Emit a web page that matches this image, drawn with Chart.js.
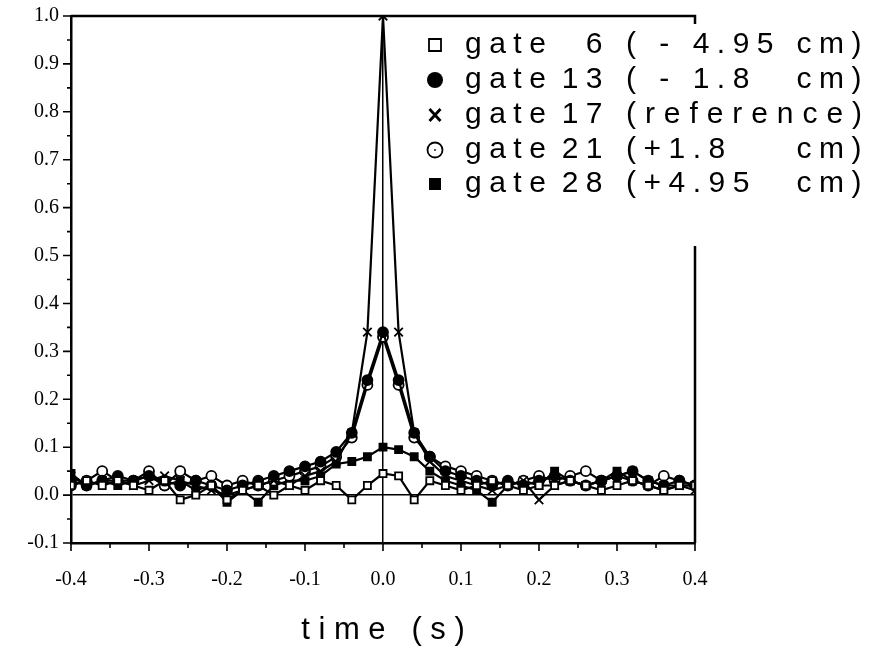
<!DOCTYPE html>
<html>
<head>
<meta charset="utf-8">
<script src="https://cdn.jsdelivr.net/npm/chart.js@4.4.0/dist/chart.umd.min.js"></script>
<style>
  html, body { margin: 0; padding: 0; background: #fff; }
  #wrap { width: 870px; height: 655px; }
</style>
</head>
<body>
<div id="wrap"><canvas id="c" width="870" height="655"></canvas></div>
<script>
// time lag (s)
const times = [-0.40, -0.38, -0.36, -0.34, -0.32, -0.30, -0.28, -0.26, -0.24, -0.22,
               -0.20, -0.18, -0.16, -0.14, -0.12, -0.10, -0.08, -0.06, -0.04, -0.02,
                0.00,  0.02,  0.04,  0.06,  0.08,  0.10,  0.12,  0.14,  0.16,  0.18,
                0.20,  0.22,  0.24,  0.26,  0.28,  0.30,  0.32,  0.34,  0.36,  0.38, 0.40];

// correlation per gate
const gate6  = [0.02, 0.03, 0.02, 0.03, 0.02, 0.01, 0.03, -0.01, 0.00, 0.02,
               -0.01, 0.01, 0.02, 0.00, 0.02, 0.01, 0.03, 0.02, -0.01, 0.02,
                0.045, 0.04, -0.01, 0.03, 0.02, 0.01, 0.02, 0.03, 0.02, 0.01,
                0.02, 0.02, 0.03, 0.02, 0.01, 0.02, 0.03, 0.02, 0.01, 0.02, 0.02];
const gate13 = [0.03, 0.02, 0.03, 0.04, 0.03, 0.04, 0.03, 0.02, 0.03, 0.02,
                0.01, 0.02, 0.03, 0.04, 0.05, 0.06, 0.07, 0.09, 0.13, 0.24,
                0.34, 0.24, 0.13, 0.08, 0.05, 0.04, 0.03, 0.02, 0.03, 0.02,
                0.03, 0.04, 0.03, 0.02, 0.03, 0.04, 0.05, 0.03, 0.02, 0.03, 0.02];
const gate17 = [0.04, 0.02, 0.03, 0.03, 0.02, 0.03, 0.04, 0.03, 0.02, 0.01,
                0.00, 0.01, 0.02, 0.03, 0.02, 0.04, 0.05, 0.07, 0.13, 0.34,
                1.00, 0.34, 0.13, 0.07, 0.04, 0.03, 0.02, 0.01, 0.02, 0.03,
               -0.01, 0.02, 0.03, 0.02, 0.03, 0.04, 0.05, 0.03, 0.02, 0.02, 0.01];
const gate21 = [0.02, 0.03, 0.05, 0.03, 0.03, 0.05, 0.02, 0.05, 0.03, 0.04,
                0.02, 0.03, 0.02, 0.03, 0.04, 0.05, 0.06, 0.08, 0.12, 0.23,
                0.33, 0.23, 0.12, 0.08, 0.06, 0.05, 0.04, 0.03, 0.02, 0.03,
                0.04, 0.03, 0.04, 0.05, 0.03, 0.04, 0.03, 0.02, 0.04, 0.03, 0.02];
const gate28 = [0.045, 0.02, 0.03, 0.02, 0.03, 0.04, 0.02, 0.03, 0.01, 0.02,
               -0.015, 0.01, -0.015, 0.02, 0.03, 0.03, 0.04, 0.065, 0.07, 0.08,
                0.10, 0.095, 0.08, 0.05, 0.03, 0.02, 0.01, -0.015, 0.02, 0.03,
                0.02, 0.05, 0.03, 0.02, 0.03, 0.05, 0.03, 0.02, 0.01, 0.02, 0.02];

// legend text pieces
const legendGate = ['6', '13', '17', '21', '28'];
const legendPos = ['( - 4.95', '( - 1.8', '(reference)', '(+1.8', '(+4.95'];
const legendUnit = ['cm)', 'cm)', '', 'cm)', 'cm)'];

const series = [gate6, gate13, gate17, gate21, gate28];
const markers = [
  { style: 'rect', fill: '#fff', r: 5 },
  { style: 'circle', fill: '#000', r: 5 },
  { style: 'crossRot', fill: '#000', r: 6 },
  { style: 'circle', fill: '#fff', r: 5 },
  { style: 'rect', fill: '#000', r: 5 }
];

const isMajor = v => Math.abs(Math.round(v * 10) - v * 10) < 1e-6;
const zeroLine = ctx => (ctx.tick && Math.abs(ctx.tick.value) < 1e-9) ? '#000' : 'rgba(0,0,0,0)';

function drawMarker(ctx, kind, x, y) {
  ctx.save();
  ctx.strokeStyle = '#000';
  ctx.fillStyle = '#000';
  ctx.lineWidth = 1.8;
  ctx.beginPath();
  if (kind === 0) {
    ctx.rect(x - 6, y - 6, 12, 12);
    ctx.stroke();
  } else if (kind === 1) {
    ctx.arc(x, y, 8, 0, Math.PI * 2);
    ctx.fill();
  } else if (kind === 2) {
    ctx.lineWidth = 2.8;
    ctx.moveTo(x - 5.5, y - 6); ctx.lineTo(x + 5.5, y + 6);
    ctx.moveTo(x + 5.5, y - 6); ctx.lineTo(x - 5.5, y + 6);
    ctx.stroke();
  } else if (kind === 3) {
    ctx.arc(x, y, 7.5, 0, Math.PI * 2);
    ctx.stroke();
    ctx.beginPath();
    ctx.arc(x, y, 0.9, 0, Math.PI * 2);
    ctx.fill();
  } else {
    ctx.rect(x - 6, y - 6, 12, 12);
    ctx.fill();
  }
  ctx.restore();
}

// text stretched so it fills exactly [x0, x1]
function fillSpread(ctx, text, x0, x1, y) {
  ctx.letterSpacing = '0px';
  const w = ctx.measureText(text).width;
  const gap = (x1 - x0 - w) / (text.length - 1);
  ctx.letterSpacing = gap + 'px';
  ctx.textAlign = 'left';
  ctx.fillText(text, x0, y);
}

const framePlugin = {
  id: 'frame',
  afterDraw(chart) {
    const { ctx, chartArea: { left, right, top, bottom }, scales: { x, y } } = chart;
    ctx.save();
    ctx.strokeStyle = '#000';
    ctx.lineWidth = 2.5;
    ctx.beginPath();
    ctx.moveTo(left, top);
    ctx.lineTo(right, top);
    ctx.lineTo(right, bottom);
    ctx.stroke();

    // tick marks, long on tenths, short in between
    ctx.lineWidth = 1.6;
    ctx.beginPath();
    x.ticks.forEach(t => {
      const px = x.getPixelForValue(t.value);
      ctx.moveTo(px, bottom);
      ctx.lineTo(px, bottom + (isMajor(t.value) ? 8 : 5));
    });
    y.ticks.forEach(t => {
      const py = y.getPixelForValue(t.value);
      ctx.moveTo(left, py);
      ctx.lineTo(left - (isMajor(t.value) ? 8 : 4), py);
    });
    ctx.stroke();

    // legend sits on white over the upper right corner
    ctx.fillStyle = '#fff';
    ctx.fillRect(420, 24, 450, 222);
    ctx.fillStyle = '#000';
    ctx.font = '30px "Liberation Sans", Arial, sans-serif';
    ctx.textBaseline = 'middle';
    const rowY = [45, 80, 115, 150, 184];
    legendGate.forEach((g, i) => {
      const yy = rowY[i];
      drawMarker(ctx, i, 435, yy);
      ctx.letterSpacing = '7.5px';
      ctx.textAlign = 'left';
      ctx.fillText('gate', 465, yy);
      ctx.textAlign = 'right';
      ctx.fillText(g, 610, yy);
      if (legendUnit[i]) {
        ctx.textAlign = 'left';
        ctx.fillText(legendPos[i], 626, yy);
        ctx.textAlign = 'right';
        ctx.fillText(legendUnit[i], 869, yy);
      } else {
        fillSpread(ctx, legendPos[i], 626, 862, yy);
      }
    });
    ctx.restore();
  }
};

new Chart(document.getElementById('c'), {
  type: 'line',
  data: {
    datasets: series.map((s, i) => ({
      label: 'gate ' + legendGate[i],
      data: times.map((t, k) => ({ x: t, y: s[k] })),
      borderColor: '#000',
      borderWidth: 2.2,
      pointStyle: markers[i].style,
      pointRadius: markers[i].r,
      pointBackgroundColor: markers[i].fill,
      pointBorderColor: '#000',
      pointBorderWidth: 1.8,
      tension: 0,
      fill: false
    }))
  },
  options: {
    responsive: false,
    animation: false,
    layout: { padding: { top: 16, right: 175, left: 0, bottom: 0 } },
    plugins: { legend: { display: false }, tooltip: { enabled: false } },
    scales: {
      x: {
        type: 'linear',
        min: -0.4,
        max: 0.4,
        afterFit: s => { s.height = 112; s.paddingLeft = 0; s.paddingRight = 0; },
        border: { color: '#000', width: 2.5 },
        grid: { color: zeroLine, lineWidth: 1.5, drawTicks: false },
        ticks: {
          stepSize: 0.05,
          autoSkip: false,
          maxRotation: 0,
          padding: 25,
          color: '#000',
          font: { family: '"Liberation Serif", serif', size: 20 },
          callback: v => isMajor(v) ? (Math.round(v * 10) / 10).toFixed(1) : ''
        },
        title: {
          display: true,
          text: 't i m e   ( s )',
          color: '#000',
          font: { family: '"Liberation Sans", Arial, sans-serif', size: 31 },
          padding: { top: 0, bottom: 6 }
        }
      },
      y: {
        min: -0.1,
        max: 1.0,
        afterFit: s => { s.width = 71; s.paddingTop = 0; s.paddingBottom = 0; },
        border: { color: '#000', width: 2.5 },
        grid: { color: zeroLine, lineWidth: 1.5, drawTicks: false },
        ticks: {
          stepSize: 0.05,
          autoSkip: false,
          padding: 12,
          color: '#000',
          font: { family: '"Liberation Serif", serif', size: 20 },
          callback: v => isMajor(v) ? (Math.round(v * 10) / 10).toFixed(1) : ''
        }
      }
    }
  },
  plugins: [framePlugin]
});
</script>
</body>
</html>
